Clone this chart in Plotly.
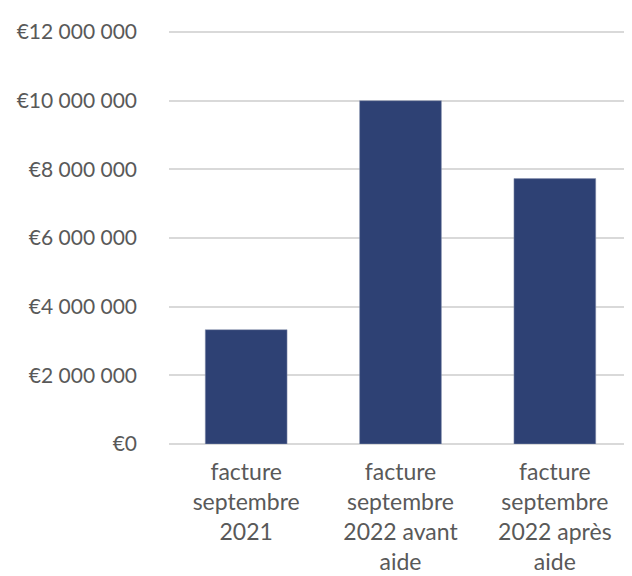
import plotly.graph_objects as go

categories = ["facture<br>septembre<br>2021", "facture<br>septembre<br>2022 avant<br>aide", "facture<br>septembre<br>2022 après<br>aide"]
values = [3330000, 10000000, 7730000]
tick_vals = [0, 2000000, 4000000, 6000000, 8000000, 10000000, 12000000]
tick_text = ["€0", "€2 000 000", "€4 000 000", "€6 000 000", "€8 000 000", "€10 000 000", "€12 000 000"]

fig = go.Figure(go.Bar(x=categories, y=values, marker=dict(color="#2E4174", line=dict(width=0.5, color="#8a94b0"))))
fig.update_layout(
    width=624, height=568,
    margin=dict(l=161, r=0, t=23, b=132),
    plot_bgcolor="white", paper_bgcolor="white",
    bargap=0.47,
    font=dict(family="Lato", size=20, color="#595959"),
    showlegend=False,
)
fig.update_yaxes(range=[0, 12030000], tickvals=tick_vals, ticktext=tick_text,
                 tickfont=dict(size=21),
                 showgrid=True, gridcolor="#D9D9D9", gridwidth=1.5,
                 zeroline=True, zerolinecolor="#D9D9D9", zerolinewidth=1.5,
                 ticklabelstandoff=31, showline=False, automargin=False)
fig.update_xaxes(showline=False, ticks="", ticklabelstandoff=12, automargin=False,
                 tickfont=dict(size=23))
fig.write_html("out.html")
